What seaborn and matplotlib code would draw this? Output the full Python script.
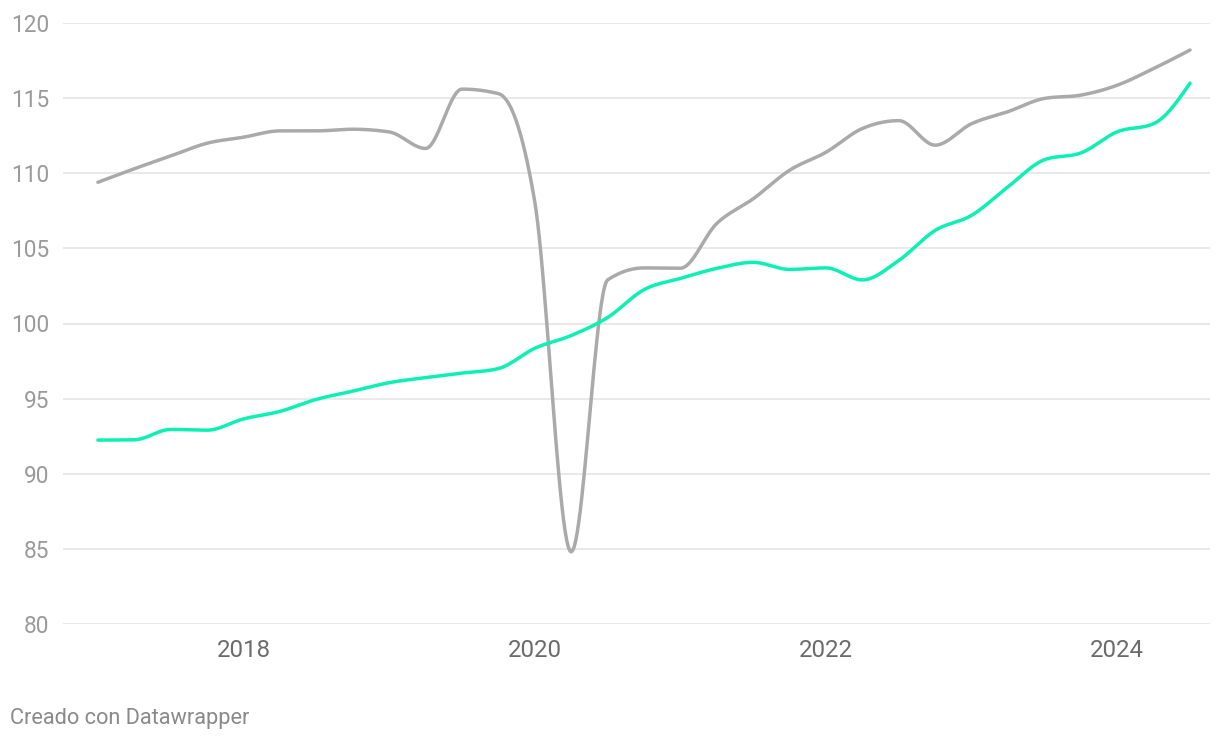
import numpy as np
import pandas as pd
import matplotlib
matplotlib.use("Agg")
import matplotlib.pyplot as plt
import seaborn as sns

# Quarterly data, 2017 Q1 .. 2024 Q3
start_year = 2017
gray_values = [109.4, 110.3, 111.15, 112.0, 112.4, 112.82, 112.82, 112.93, 112.75, 111.65,
               115.6, 115.3, 108.1, 84.8, 102.9, 103.7, 103.68, 106.66, 108.3, 110.2,
               111.4, 112.98, 113.5, 111.87, 113.3, 114.1, 114.98, 115.2, 115.86, 116.97, 118.2]
green_values = [92.24, 92.26, 92.95, 92.9, 93.65, 94.15, 94.95, 95.5, 96.06, 96.4,
                96.7, 97.0, 98.35, 99.2, 100.4, 102.25, 103.0, 103.67, 104.07, 103.6,
                103.7, 102.9, 104.2, 106.2, 107.2, 109.1, 110.9, 111.35, 112.76, 113.3, 116.0]
series_names = ["gris", "verde"]
series_colors = ["#aaaaaa", "#0cf0b4"]
y_ticks = [80, 85, 90, 95, 100, 105, 110, 115, 120]
x_ticks = [2018, 2020, 2022, 2024]
footer = "Creado con Datawrapper"

x = start_year + np.arange(len(gray_values)) / 4.0


def monotone_x(xs, ys, n=24):
    """Render-time smoothing like d3.curveMonotoneX."""
    xs = np.asarray(xs, float); ys = np.asarray(ys, float)
    m = len(xs)
    h = np.diff(xs); s = np.diff(ys) / h
    t = np.zeros(m)
    for i in range(1, m - 1):
        h0, h1, s0, s1 = h[i - 1], h[i], s[i - 1], s[i]
        p = (s0 * h1 + s1 * h0) / (h0 + h1)
        t[i] = (np.sign(s0) + np.sign(s1)) * min(abs(s0), abs(s1), 0.5 * abs(p))
    t[0] = (3 * s[0] - t[1]) / 2
    t[-1] = (3 * s[-1] - t[-2]) / 2
    ox, oy = [], []
    for i in range(m - 1):
        u = np.linspace(0, 1, n, endpoint=(i == m - 2))
        dx = h[i]
        h00 = 2 * u**3 - 3 * u**2 + 1
        h10 = u**3 - 2 * u**2 + u
        h01 = -2 * u**3 + 3 * u**2
        h11 = u**3 - u**2
        ox.append(xs[i] + u * dx)
        oy.append(h00 * ys[i] + h10 * dx * t[i] + h01 * ys[i + 1] + h11 * dx * t[i + 1])
    return np.concatenate(ox), np.concatenate(oy)


frames = []
for name, vals in zip(series_names, [gray_values, green_values]):
    sx, sy = monotone_x(x, vals)
    frames.append(pd.DataFrame({"x": sx, "y": sy, "serie": name}))
df = pd.concat(frames, ignore_index=True)

sns.set_theme(style="white")
plt.rcParams["font.family"] = ["Roboto", "DejaVu Sans"]

fig = plt.figure(figsize=(12.2, 7.4), dpi=100)
ax = fig.add_axes([63 / 1220, 1 - 624 / 740, (1210 - 63) / 1220, (624 - 23) / 740])

sns.lineplot(data=df, x="x", y="y", hue="serie", palette=dict(zip(series_names, series_colors)),
             linewidth=2.5, sort=False, estimator=None, legend=False, ax=ax,
             solid_capstyle="round", solid_joinstyle="round")

ax.set_ylim(80, 120)
ax.set_xlim(start_year - 35 / 146, start_year + 7.5 + 20 / 146)
ax.set_yticks(y_ticks)
ax.set_yticklabels([str(v) for v in y_ticks])
ax.set_xticks(x_ticks)
ax.set_xticklabels([str(v) for v in x_ticks])
ax.set_xlabel("")
ax.set_ylabel("")
ax.grid(axis="y", color="#e3e3e3", linewidth=1.1)
ax.grid(axis="x", visible=False)
ax.set_axisbelow(True)
for sp in ax.spines.values():
    sp.set_visible(False)
ax.tick_params(axis="y", length=0, pad=10, labelsize=16.3, labelcolor="#9a9a9a")
ax.tick_params(axis="x", length=0, pad=11, labelsize=17.3, labelcolor="#6b6b6b")

fig.text(10 / 1220, 1 - 724 / 740, footer, fontsize=15.7, color="#8a8a8a", ha="left", va="baseline")

fig.savefig("out.png", dpi=100, facecolor="white")
